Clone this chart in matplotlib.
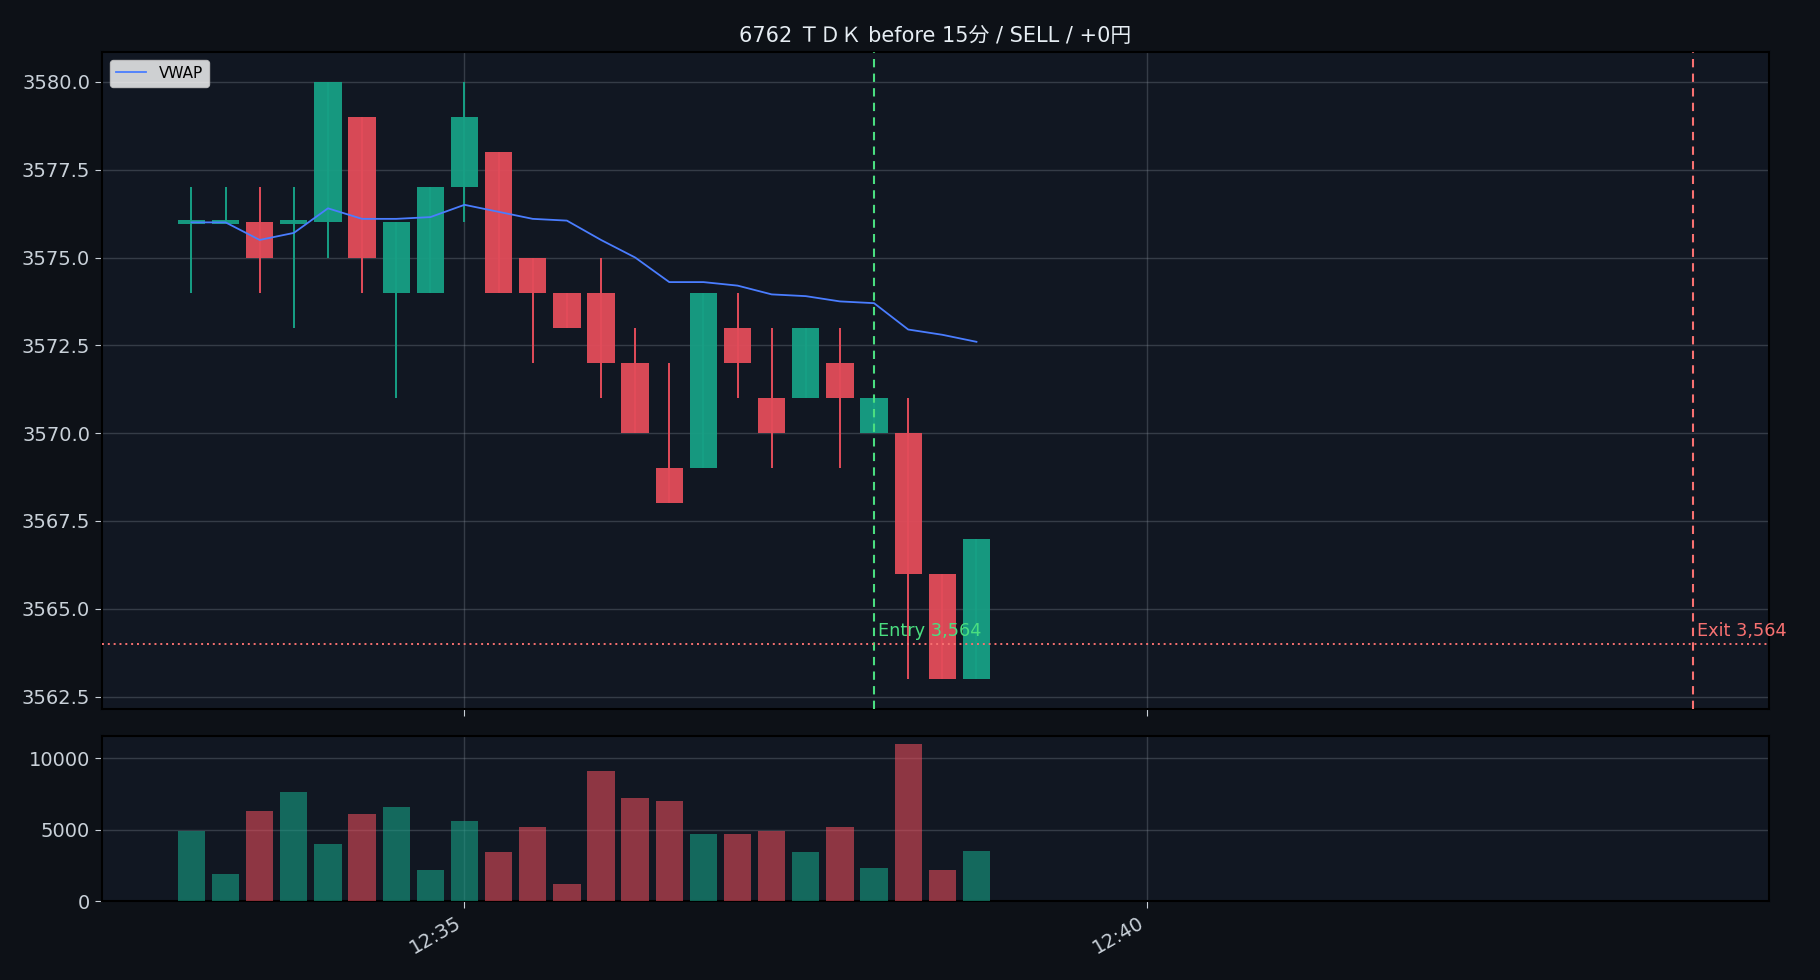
import matplotlib
matplotlib.use("Agg")
import matplotlib.pyplot as plt
import matplotlib.dates as mdates
import numpy as np
from datetime import datetime, timedelta

plt.rcParams['font.family'] = ['DejaVu Sans', 'Noto Sans CJK JP']

# ---- data ----
title = "6762 ＴＤＫ before 15分 / SELL / +0円"
start_time = "2024-01-15 12:33:00"
bar_seconds = 15
opens  = [3576, 3576, 3576, 3576, 3576, 3579, 3574, 3574, 3577, 3578, 3575, 3574,
          3574, 3572, 3569, 3569, 3573, 3571, 3571, 3572, 3570, 3570, 3566, 3563]
highs  = [3577, 3577, 3577, 3577, 3580, 3579, 3576, 3577, 3580, 3578, 3575, 3574,
          3575, 3573, 3572, 3574, 3574, 3573, 3573, 3573, 3571, 3571, 3566, 3567]
lows   = [3574, 3576, 3574, 3573, 3575, 3574, 3571, 3574, 3576, 3574, 3572, 3573,
          3571, 3570, 3568, 3569, 3571, 3569, 3571, 3569, 3570, 3563, 3563, 3563]
closes = [3576, 3576, 3575, 3576, 3580, 3575, 3576, 3577, 3579, 3574, 3574, 3573,
          3572, 3570, 3568, 3574, 3572, 3570, 3573, 3571, 3571, 3566, 3563, 3567]
vwap   = [3576.0, 3576.0, 3575.5, 3575.7, 3576.4, 3576.1, 3576.1, 3576.15, 3576.5,
          3576.3, 3576.1, 3576.05, 3575.5, 3575.0, 3574.3, 3574.3, 3574.2, 3573.95,
          3573.9, 3573.75, 3573.7, 3572.95, 3572.8, 3572.6]
volumes = [4900, 1900, 6300, 7600, 4000, 6100, 6600, 2200, 5600, 3400, 5200, 1200,
           9100, 7200, 7000, 4700, 4700, 4900, 3400, 5200, 2300, 11000, 2200, 3500]
entry_time = "2024-01-15 12:38:00"
exit_time = "2024-01-15 12:44:00"
entry_price = 3564
exit_price = 3564

# ---- style ----
FIG_BG = '#0d1117'
AX_BG = '#111722'
GREEN = '#17a085'
RED = '#e34c5a'
TXT = '#c9d1d9'

t0 = datetime.strptime(start_time, "%Y-%m-%d %H:%M:%S")
times = [t0 + timedelta(seconds=bar_seconds * i) for i in range(len(opens))]
x = mdates.date2num(times)
dx = bar_seconds / 86400.0
w = 0.8 * dx
t_entry = mdates.date2num(datetime.strptime(entry_time, "%Y-%m-%d %H:%M:%S"))
t_exit = mdates.date2num(datetime.strptime(exit_time, "%Y-%m-%d %H:%M:%S"))

fig = plt.figure(figsize=(18.2, 9.8), dpi=100, facecolor=FIG_BG)
gs = fig.add_gridspec(2, 1, height_ratios=[657, 165], hspace=0.066,
                      left=102/1820, right=1769/1820, top=1-52/980, bottom=1-901/980)
ax = fig.add_subplot(gs[0])
axv = fig.add_subplot(gs[1], sharex=ax)

for a in (ax, axv):
    a.set_facecolor(AX_BG)
    for s in a.spines.values():
        s.set_color('black')
        s.set_linewidth(1.5)
    a.tick_params(colors=TXT, labelsize=14, length=5)
    a.grid(True, color='#8b949e', alpha=0.3, linewidth=1)
    a.set_axisbelow(True)

colors = [GREEN if c >= o else RED for o, c in zip(opens, closes)]
for xi, o, h, l, c, col in zip(x, opens, highs, lows, closes, colors):
    ax.vlines(xi, l, h, color=col, linewidth=1.4, zorder=3)
    bottom = min(o, c)
    height = max(abs(c - o), 0.12)
    if c == o:
        bottom = o - 0.06
    ax.bar(xi, height, bottom=bottom, width=w, color=col, alpha=0.95, zorder=4)

ax.plot(x, vwap, color='#4a7dff', linewidth=1.3, label='VWAP', zorder=5)

ax.axvline(t_entry, color='#4ade80', linestyle=(0, (4, 3)), linewidth=1.5, zorder=6)
ax.axvline(t_exit, color='#f87171', linestyle=(0, (4, 3)), linewidth=1.5, zorder=6)
ax.axhline(exit_price, color='#f87171', linestyle=(0, (1, 2)), linewidth=1.4, zorder=6)
off = 0.12 * dx
ax.text(t_entry + off, entry_price + 0.12, f"Entry {entry_price:,}", color='#4ade80',
        fontsize=12.8, va='bottom', ha='left', zorder=7)
ax.text(t_exit + off, exit_price + 0.12, f"Exit {exit_price:,}", color='#f87171',
        fontsize=12.8, va='bottom', ha='left', zorder=7)

leg = ax.legend(loc='upper left', fontsize=11, framealpha=0.8, facecolor='white',
                edgecolor='#cccccc')
for t in leg.get_texts():
    t.set_color('black')

ax.set_ylim(3562.15, 3580.85)
ax.set_title(title, color='#e6edf3', fontsize=15, pad=7)
ax.tick_params(labelbottom=False)

axv.bar(x, volumes, width=w, color=colors, alpha=0.6, zorder=3)
axv.set_ylim(0, 11550)
axv.set_yticks([0, 5000, 10000])

xmin = x[0] - w / 2
xmax = t_exit
pad = 0.05 * (xmax - xmin)
ax.set_xlim(xmin - pad, xmax + pad)

axv.xaxis.set_major_locator(mdates.MinuteLocator(byminute=range(0, 60, 5)))
axv.xaxis.set_major_formatter(mdates.DateFormatter('%H:%M'))
for lab in axv.get_xticklabels():
    lab.set_rotation(30)
    lab.set_ha('right')

fig.savefig('out.png', dpi=100, facecolor=FIG_BG)
